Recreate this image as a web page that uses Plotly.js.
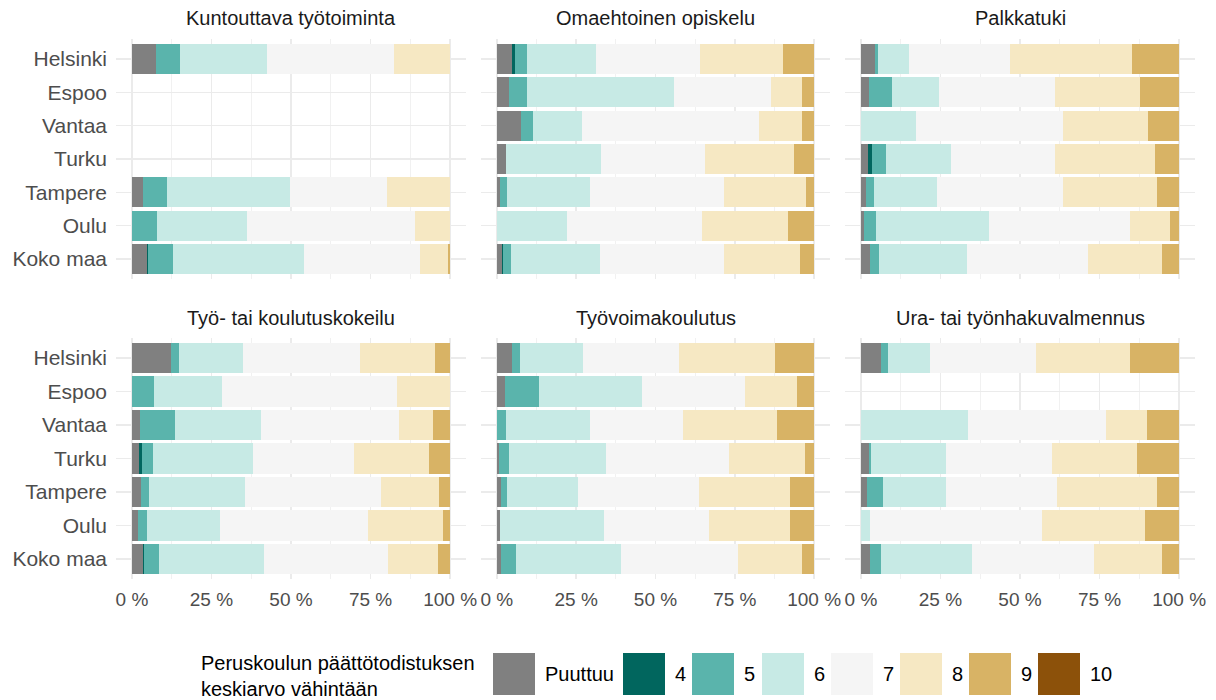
<!DOCTYPE html>
<html>
<head>
<meta charset="utf-8">
<script src="https://cdn.plot.ly/plotly-3.0.1.min.js"></script>
<style>html,body{margin:0;padding:0;background:#fff;}#chart{width:1216px;height:700px;}</style>
</head>
<body>
<div id="chart"></div>
<script>
// Categories
const cities = ["Helsinki", "Espoo", "Vantaa", "Turku", "Tampere", "Oulu", "Koko maa"];
const grades = ["Puuttuu", "4", "5", "6", "7", "8", "9", "10"];
const gradeColors = ["#808080", "#01665E", "#5AB4AC", "#C7EAE5", "#F5F5F5", "#F6E8C3", "#D8B365", "#8C510A"];
const panelTitles = ["Kuntouttava työtoiminta", "Omaehtoinen opiskelu", "Palkkatuki",
                     "Työ- tai koulutuskokeilu", "Työvoimakoulutus", "Ura- tai työnhakuvalmennus"];
const xTickVals = [0, 25, 50, 75, 100];
const xTickText = ["0 %", "25 %", "50 %", "75 %", "100 %"];
const legendTitle = "Peruskoulun päättötodistuksen<br>keskiarvo vähintään";

// Shares (%) per city, columns: Puuttuu, 4, 5, 6, 7, 8, 9, 10 (null = no data)
const kuntouttava = [
  [7.5, 0, 7.5, 27.4, 39.9, 17.7, 0, 0],
  null,
  null,
  null,
  [3.6, 0, 7.3, 38.9, 30.5, 19.7, 0, 0],
  [0, 0, 7.8, 28.3, 53.0, 10.9, 0, 0],
  [4.6, 0.4, 8.0, 41.2, 36.4, 8.6, 0.8, 0]
];
const omaehtoinen = [
  [4.8, 0.8, 3.8, 21.8, 32.8, 26.3, 9.7, 0],
  [3.8, 0, 5.7, 46.4, 30.6, 9.7, 3.8, 0],
  [7.6, 0, 3.9, 15.4, 55.8, 13.5, 3.8, 0],
  [2.9, 0, 0, 29.8, 32.9, 28.1, 6.3, 0],
  [0.9, 0, 2.4, 26.0, 42.4, 25.8, 2.5, 0],
  [0, 0, 0, 22.2, 42.3, 27.2, 8.3, 0],
  [1.7, 0.2, 2.7, 27.9, 39.1, 23.9, 4.5, 0]
];
const palkkatuki = [
  [4.4, 0, 1.0, 9.6, 31.8, 38.4, 14.8, 0],
  [2.5, 0, 7.4, 14.6, 36.6, 26.6, 12.3, 0],
  [0, 0, 0, 17.2, 46.3, 26.8, 9.7, 0],
  [2.2, 1.4, 4.2, 20.5, 32.7, 31.4, 7.6, 0],
  [1.7, 0, 2.4, 19.8, 39.6, 29.5, 7.0, 0],
  [0.9, 0, 3.7, 35.6, 44.3, 12.5, 3.0, 0],
  [2.8, 0, 2.9, 27.6, 38.1, 23.2, 5.4, 0]
];
const kokeilu = [
  [12.2, 0, 2.5, 20.3, 36.7, 23.5, 4.8, 0],
  [0, 0, 7.0, 21.4, 55.0, 16.6, 0, 0],
  [2.6, 0, 10.9, 27.1, 43.2, 10.7, 5.5, 0],
  [2.3, 0.8, 3.4, 31.7, 31.6, 23.6, 6.6, 0],
  [2.8, 0, 2.6, 30.0, 42.9, 18.2, 3.5, 0],
  [1.8, 0, 3.0, 22.9, 46.6, 23.6, 2.1, 0],
  [3.4, 0.3, 4.8, 33.1, 38.9, 15.8, 3.7, 0]
];
const tyovoimakoulutus = [
  [4.9, 0, 2.5, 19.8, 30.1, 30.5, 12.2, 0],
  [2.5, 0, 10.7, 32.6, 32.5, 16.2, 5.5, 0],
  [0, 0, 2.8, 26.5, 29.5, 29.5, 11.7, 0],
  [0.8, 0, 2.9, 30.7, 38.7, 24.0, 2.9, 0],
  [1.2, 0, 2.0, 22.4, 38.2, 28.6, 7.6, 0],
  [0.9, 0, 0, 33.0, 33.1, 25.3, 7.7, 0],
  [1.3, 0, 4.6, 33.1, 37.1, 20.0, 3.9, 0]
];
const uravalmennus = [
  [6.2, 0, 2.4, 13.1, 33.2, 29.7, 15.4, 0],
  null,
  [0, 0, 0, 33.5, 43.5, 12.8, 10.2, 0],
  [2.5, 0, 0.8, 23.4, 33.4, 26.6, 13.3, 0],
  [1.9, 0, 5.0, 19.8, 34.9, 31.6, 6.8, 0],
  [0, 0, 0, 2.9, 54.0, 32.3, 10.8, 0],
  [2.7, 0, 3.5, 28.7, 38.4, 21.3, 5.4, 0]
];
const panelData = [kuntouttava, omaehtoinen, palkkatuki, kokeilu, tyovoimakoulutus, uravalmennus];

// ---------- layout helpers (pixel -> paper) ----------
const W = 1216, H = 700;
const px = v => v / W;
const py = v => 1 - v / H;
const colPx = [[116, 466], [481, 830], [845, 1195]];
const rowPx = [[39, 279], [338, 579]];
const stripY = [18, 318];

const FONT = "Liberation Sans, Arial, sans-serif";
const traces = [];
const layout = {
  width: W, height: H,
  margin: {l: 0, r: 0, t: 0, b: 0},
  paper_bgcolor: "#ffffff", plot_bgcolor: "#ffffff",
  barmode: "stack", bargap: 0.1,
  showlegend: false,
  font: {family: FONT, size: 20, color: "#4D4D4D"},
  annotations: [], shapes: []
};

panelData.forEach((rows, p) => {
  const col = p % 3, row = Math.floor(p / 3);
  const sfx = p === 0 ? "" : String(p + 1);
  grades.forEach((g, gi) => {
    traces.push({
      type: "bar", orientation: "h",
      name: g,
      y: cities,
      x: rows.map(r => (r ? r[gi] : null)),
      xaxis: "x" + sfx, yaxis: "y" + sfx,
      marker: {color: gradeColors[gi], line: {width: 0}},
      hovertemplate: "%{y}: %{x:.1f} %<extra>" + g + "</extra>"
    });
  });
  layout["xaxis" + sfx] = {
    domain: [px(colPx[col][0]), px(colPx[col][1])],
    anchor: "y" + sfx,
    range: [-5, 105],
    tickmode: "array", tickvals: xTickVals, ticktext: xTickText,
    showticklabels: row === 1,
    ticks: "", ticklabelstandoff: 7,
    showgrid: true, gridcolor: "#EBEBEB", gridwidth: 1.4,
    minor: {tick0: 0, dtick: 12.5, showgrid: true, gridcolor: "#EBEBEB", gridwidth: 0.7},
    zeroline: false, showline: false, fixedrange: true,
    tickfont: {family: FONT, size: 19, color: "#4D4D4D"}
  };
  layout["yaxis" + sfx] = {
    domain: [py(rowPx[row][1]), py(rowPx[row][0])],
    anchor: "x" + sfx,
    type: "category",
    categoryorder: "array", categoryarray: cities.slice().reverse(),
    range: [-0.6, 6.6],
    showticklabels: col === 0,
    ticks: "", ticklabelstandoff: 8,
    showgrid: true, gridcolor: "#EBEBEB", gridwidth: 1.4,
    zeroline: false, showline: false, fixedrange: true,
    tickfont: {family: FONT, size: 21, color: "#4D4D4D"}
  };
  layout.annotations.push({
    xref: "paper", yref: "paper",
    x: px((colPx[col][0] + colPx[col][1]) / 2), y: py(stripY[row]),
    xanchor: "center", yanchor: "middle",
    text: panelTitles[p], showarrow: false,
    font: {family: FONT, size: 20, color: "#1A1A1A"}
  });
});

// ---------- manual legend ----------
layout.annotations.push({
  xref: "paper", yref: "paper",
  x: px(199), y: py(676), xanchor: "left", yanchor: "middle", align: "left",
  text: legendTitle, showarrow: false,
  font: {family: FONT, size: 20, color: "#000000"}
});
const keyLeft = [493, 623, 692, 762, 831, 900, 969, 1038];
const keySize = 42, keyTop = 653;
grades.forEach((g, gi) => {
  const x0 = keyLeft[gi];
  layout.shapes.push({
    type: "rect", xref: "paper", yref: "paper",
    x0: px(x0), x1: px(x0 + keySize), y0: py(keyTop + keySize), y1: py(keyTop),
    fillcolor: gradeColors[gi], line: {width: 0}
  });
  layout.annotations.push({
    xref: "paper", yref: "paper",
    x: px(x0 + keySize + 8), y: py(keyTop + keySize / 2),
    xanchor: "left", yanchor: "middle",
    text: g, showarrow: false,
    font: {family: FONT, size: 20, color: "#000000"}
  });
});

Plotly.newPlot("chart", traces, layout, {displayModeBar: false, staticPlot: true});
</script>
</body>
</html>
